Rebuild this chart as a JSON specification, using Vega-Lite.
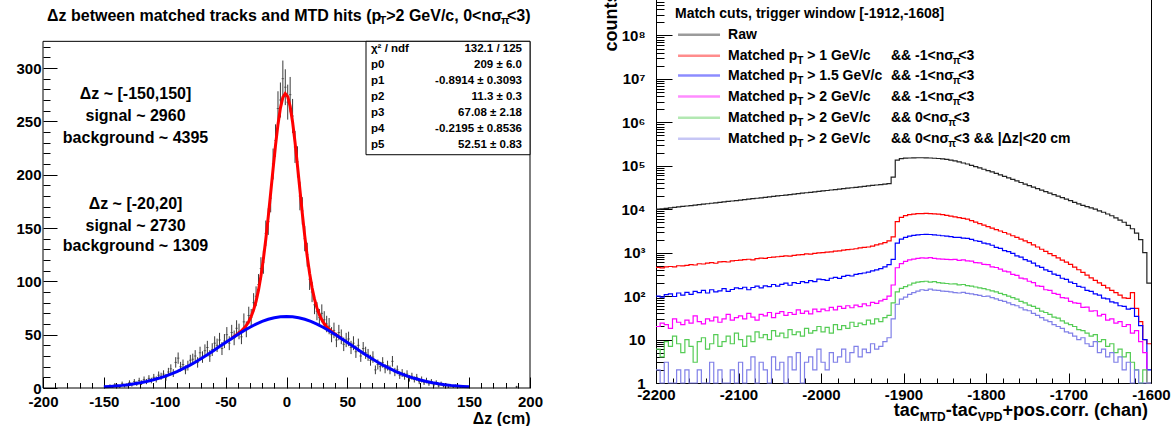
{
"$schema": "https://vega.github.io/schema/vega-lite/v6.json",
"background": "white",
"padding": {"left": 15, "top": -9, "right": 0, "bottom": 0},
"spacing": 59,
"config": {
  "font": "Liberation Sans",
  "view": {"stroke": "#000", "strokeWidth": 1},
  "axis": {"grid": false, "domain": false, "labelFont": "Liberation Sans", "labelFontWeight": "bold", "labelFontSize": 15, "labelColor": "#000", "tickColor": "#000", "tickWidth": 1, "titleFont": "Liberation Sans", "titleFontWeight": "bold", "titleColor": "#000", "labelOverlap": false, "labelFlush": false, "labelBound": false},
  "text": {"font": "Liberation Sans", "fontWeight": "bold", "color": "#000"}
},
"datasets": {
  "hist": [
    {"c":-149,"n":1,"lo":0,"hi":2},{"c":-145,"n":2,"lo":0.6,"hi":3.4},{"c":-143,"n":1,"lo":0,"hi":2},{"c":-141,"n":3,"lo":1.3,"hi":4.7},
    {"c":-139,"n":2,"lo":0.6,"hi":3.4},{"c":-137,"n":1,"lo":0,"hi":2},{"c":-135,"n":4,"lo":2,"hi":6},{"c":-133,"n":2,"lo":0.6,"hi":3.4},
    {"c":-131,"n":3,"lo":1.3,"hi":4.7},{"c":-129,"n":5,"lo":2.8,"hi":7.2},{"c":-127,"n":3,"lo":1.3,"hi":4.7},{"c":-125,"n":6,"lo":3.6,"hi":8.4},
    {"c":-123,"n":4,"lo":2,"hi":6},{"c":-121,"n":7,"lo":4.4,"hi":9.6},{"c":-119,"n":5,"lo":2.8,"hi":7.2},{"c":-117,"n":8,"lo":5.2,"hi":10.8},
    {"c":-115,"n":6,"lo":3.6,"hi":8.4},{"c":-113,"n":9,"lo":6,"hi":12},{"c":-111,"n":7,"lo":4.4,"hi":9.6},{"c":-109,"n":10,"lo":6.8,"hi":13.2},
    {"c":-107,"n":8,"lo":5.2,"hi":10.8},{"c":-105,"n":12,"lo":8.5,"hi":15.5},{"c":-103,"n":11,"lo":7.7,"hi":14.3},{"c":-101,"n":13,"lo":9.4,"hi":16.6},
    {"c":-99,"n":10,"lo":6.8,"hi":13.2},{"c":-97,"n":15,"lo":11.1,"hi":18.9},{"c":-95,"n":18,"lo":13.8,"hi":22.2},{"c":-93,"n":14,"lo":10.3,"hi":17.7},
    {"c":-91,"n":24,"lo":19.1,"hi":28.9},{"c":-89,"n":28,"lo":22.7,"hi":33.3},{"c":-87,"n":20,"lo":15.5,"hi":24.5},{"c":-85,"n":22,"lo":17.3,"hi":26.7},
    {"c":-83,"n":17,"lo":12.9,"hi":21.1},{"c":-81,"n":21,"lo":16.4,"hi":25.6},{"c":-79,"n":26,"lo":20.9,"hi":31.1},{"c":-77,"n":27,"lo":21.8,"hi":32.2},
    {"c":-75,"n":30,"lo":24.5,"hi":35.5},{"c":-73,"n":24,"lo":19.1,"hi":28.9},{"c":-71,"n":33,"lo":27.3,"hi":38.7},{"c":-69,"n":29,"lo":23.6,"hi":34.4},
    {"c":-67,"n":35,"lo":29.1,"hi":40.9},{"c":-65,"n":38,"lo":31.8,"hi":44.2},{"c":-63,"n":30,"lo":24.5,"hi":35.5},{"c":-61,"n":36,"lo":30,"hi":42},
    {"c":-59,"n":42,"lo":35.5,"hi":48.5},{"c":-57,"n":40,"lo":33.7,"hi":46.3},{"c":-55,"n":45,"lo":38.3,"hi":51.7},{"c":-53,"n":37,"lo":30.9,"hi":43.1},
    {"c":-51,"n":44,"lo":37.4,"hi":50.6},{"c":-49,"n":50,"lo":42.9,"hi":57.1},{"c":-47,"n":42,"lo":35.5,"hi":48.5},{"c":-45,"n":52,"lo":44.8,"hi":59.2},
    {"c":-43,"n":47,"lo":40.1,"hi":53.9},{"c":-41,"n":56,"lo":48.5,"hi":63.5},{"c":-39,"n":53,"lo":45.7,"hi":60.3},{"c":-37,"n":48,"lo":41.1,"hi":54.9},
    {"c":-35,"n":62,"lo":54.1,"hi":69.9},{"c":-33,"n":55,"lo":47.6,"hi":62.4},{"c":-31,"n":68,"lo":59.8,"hi":76.2},{"c":-29,"n":66,"lo":57.9,"hi":74.1},
    {"c":-27,"n":80,"lo":71.1,"hi":88.9},{"c":-25,"n":86,"lo":76.7,"hi":95.3},{"c":-23,"n":97,"lo":87.2,"hi":106.8},{"c":-21,"n":112,"lo":101.4,"hi":122.6},
    {"c":-19,"n":118,"lo":107.1,"hi":128.9},{"c":-17,"n":145,"lo":133,"hi":157},{"c":-15,"n":156,"lo":143.5,"hi":168.5},{"c":-13,"n":178,"lo":164.7,"hi":191.3},
    {"c":-11,"n":210,"lo":195.5,"hi":224.5},{"c":-9,"n":232,"lo":216.8,"hi":247.2},{"c":-7,"n":262,"lo":245.8,"hi":278.2},{"c":-5,"n":270,"lo":253.6,"hi":286.4},
    {"c":-3,"n":290,"lo":273,"hi":307},{"c":-1,"n":282,"lo":265.2,"hi":298.8},{"c":1,"n":268,"lo":251.6,"hi":284.4},{"c":3,"n":275,"lo":258.4,"hi":291.6},
    {"c":5,"n":255,"lo":239,"hi":271},{"c":7,"n":226,"lo":211,"hi":241},{"c":9,"n":212,"lo":197.4,"hi":226.6},{"c":11,"n":180,"lo":166.6,"hi":193.4},
    {"c":13,"n":166,"lo":153.1,"hi":178.9},{"c":15,"n":140,"lo":128.2,"hi":151.8},{"c":17,"n":125,"lo":113.8,"hi":136.2},{"c":19,"n":102,"lo":91.9,"hi":112.1},
    {"c":21,"n":90,"lo":80.5,"hi":99.5},{"c":23,"n":78,"lo":69.2,"hi":86.8},{"c":25,"n":72,"lo":63.5,"hi":80.5},{"c":27,"n":66,"lo":57.9,"hi":74.1},
    {"c":29,"n":70,"lo":61.6,"hi":78.4},{"c":31,"n":64,"lo":56,"hi":72},{"c":33,"n":60,"lo":52.3,"hi":67.7},{"c":35,"n":58,"lo":50.4,"hi":65.6},
    {"c":37,"n":50,"lo":42.9,"hi":57.1},{"c":39,"n":54,"lo":46.7,"hi":61.3},{"c":41,"n":45,"lo":38.3,"hi":51.7},{"c":43,"n":52,"lo":44.8,"hi":59.2},
    {"c":45,"n":48,"lo":41.1,"hi":54.9},{"c":47,"n":41,"lo":34.6,"hi":47.4},{"c":49,"n":45,"lo":38.3,"hi":51.7},{"c":51,"n":46,"lo":39.2,"hi":52.8},
    {"c":53,"n":38,"lo":31.8,"hi":44.2},{"c":55,"n":42,"lo":35.5,"hi":48.5},{"c":57,"n":34,"lo":28.2,"hi":39.8},{"c":59,"n":40,"lo":33.7,"hi":46.3},
    {"c":61,"n":30,"lo":24.5,"hi":35.5},{"c":63,"n":37,"lo":30.9,"hi":43.1},{"c":65,"n":33,"lo":27.3,"hi":38.7},{"c":67,"n":31,"lo":25.4,"hi":36.6},
    {"c":69,"n":26,"lo":20.9,"hi":31.1},{"c":71,"n":29,"lo":23.6,"hi":34.4},{"c":73,"n":17,"lo":12.9,"hi":21.1},{"c":75,"n":22,"lo":17.3,"hi":26.7},
    {"c":77,"n":20,"lo":15.5,"hi":24.5},{"c":79,"n":24,"lo":19.1,"hi":28.9},{"c":81,"n":18,"lo":13.8,"hi":22.2},{"c":83,"n":21,"lo":16.4,"hi":25.6},
    {"c":85,"n":17,"lo":12.9,"hi":21.1},{"c":87,"n":25,"lo":20,"hi":30},{"c":89,"n":15,"lo":11.1,"hi":18.9},{"c":91,"n":17,"lo":12.9,"hi":21.1},
    {"c":93,"n":12,"lo":8.5,"hi":15.5},{"c":95,"n":14,"lo":10.3,"hi":17.7},{"c":97,"n":11,"lo":7.7,"hi":14.3},{"c":99,"n":13,"lo":9.4,"hi":16.6},
    {"c":101,"n":9,"lo":6,"hi":12},{"c":103,"n":11,"lo":7.7,"hi":14.3},{"c":105,"n":8,"lo":5.2,"hi":10.8},{"c":107,"n":10,"lo":6.8,"hi":13.2},
    {"c":109,"n":6,"lo":3.6,"hi":8.4},{"c":111,"n":8,"lo":5.2,"hi":10.8},{"c":113,"n":5,"lo":2.8,"hi":7.2},{"c":115,"n":7,"lo":4.4,"hi":9.6},
    {"c":117,"n":4,"lo":2,"hi":6},{"c":119,"n":6,"lo":3.6,"hi":8.4},{"c":121,"n":3,"lo":1.3,"hi":4.7},{"c":123,"n":5,"lo":2.8,"hi":7.2},
    {"c":125,"n":2,"lo":0.6,"hi":3.4},{"c":127,"n":4,"lo":2,"hi":6},{"c":129,"n":2,"lo":0.6,"hi":3.4},{"c":131,"n":3,"lo":1.3,"hi":4.7},
    {"c":133,"n":1,"lo":0,"hi":2},{"c":135,"n":2,"lo":0.6,"hi":3.4},{"c":137,"n":1,"lo":0,"hi":2},{"c":139,"n":2,"lo":0.6,"hi":3.4},
    {"c":143,"n":1,"lo":0,"hi":2},{"c":145,"n":1,"lo":0,"hi":2},{"c":149,"n":1,"lo":0,"hi":2},{"c":189,"n":1,"lo":0,"hi":2}
  ],
  "red": [
    {"x":-45,"y":46.6},{"x":-43,"y":48.2},{"x":-41,"y":49.9},{"x":-39,"y":51.6},{"x":-37,"y":53.6},{"x":-35,"y":55.9},{"x":-33,"y":58.7},{"x":-31,"y":62.4},
    {"x":-29,"y":67.1},{"x":-27,"y":73.3},{"x":-25,"y":81.3},{"x":-23,"y":91.7},{"x":-21,"y":104.9},{"x":-19,"y":120.8},{"x":-17,"y":139.5},{"x":-15,"y":160.5},
    {"x":-13,"y":182.8},{"x":-11,"y":205.7},{"x":-9,"y":227.8},{"x":-7,"y":247.1},{"x":-5,"y":262.4},{"x":-3,"y":272.4},{"x":-1,"y":276.1},{"x":1,"y":273.2},
    {"x":3,"y":264.0},{"x":5,"y":249.3},{"x":7,"y":230.5},{"x":9,"y":208.6},{"x":11,"y":186.1},{"x":13,"y":163.5},{"x":15,"y":142.3},{"x":17,"y":123.5},
    {"x":19,"y":107.3},{"x":21,"y":94.0},{"x":23,"y":83.3},{"x":25,"y":75.1},{"x":27,"y":68.7},{"x":29,"y":63.9},{"x":31,"y":60.2},{"x":33,"y":57.4},
    {"x":35,"y":55.1},{"x":37,"y":53.1},{"x":39,"y":51.3},{"x":41,"y":49.7},{"x":43,"y":48.1},{"x":45,"y":46.6}
  ],
  "blue": [
    {"x":-150,"y":1.14},{"x":-145,"y":1.48},{"x":-140,"y":1.92},{"x":-135,"y":2.46},{"x":-130,"y":3.13},{"x":-125,"y":3.95},{"x":-120,"y":4.94},
    {"x":-115,"y":6.10},{"x":-110,"y":7.47},{"x":-105,"y":9.08},{"x":-100,"y":10.92},{"x":-95,"y":13.05},{"x":-90,"y":15.44},{"x":-85,"y":18.10},
    {"x":-80,"y":21.02},{"x":-75,"y":24.20},{"x":-70,"y":27.61},{"x":-65,"y":31.21},{"x":-60,"y":34.93},{"x":-55,"y":38.81},{"x":-50,"y":42.64},
    {"x":-45,"y":46.51},{"x":-40,"y":50.19},{"x":-35,"y":53.71},{"x":-30,"y":56.98},{"x":-25,"y":59.89},{"x":-20,"y":62.39},{"x":-15,"y":64.40},
    {"x":-10,"y":65.87},{"x":-5,"y":66.78},{"x":0,"y":67.08},{"x":5,"y":66.78},{"x":10,"y":65.87},{"x":15,"y":64.40},{"x":20,"y":62.39},
    {"x":25,"y":59.89},{"x":30,"y":56.98},{"x":35,"y":53.71},{"x":40,"y":50.19},{"x":45,"y":46.51},{"x":50,"y":42.64},{"x":55,"y":38.81},
    {"x":60,"y":34.93},{"x":65,"y":31.21},{"x":70,"y":27.61},{"x":75,"y":24.20},{"x":80,"y":21.02},{"x":85,"y":18.10},{"x":90,"y":15.44},
    {"x":95,"y":13.05},{"x":100,"y":10.92},{"x":105,"y":9.08},{"x":110,"y":7.47},{"x":115,"y":6.10},{"x":120,"y":4.94},{"x":125,"y":3.95},
    {"x":130,"y":3.13},{"x":135,"y":2.46},{"x":140,"y":1.92},{"x":145,"y":1.48},{"x":150,"y":1.14}
  ],
  "ann": [
    {"x":-124,"y":276,"t":"Δz ~ [-150,150]"},{"x":-124,"y":255,"t":"signal ~ 2960"},{"x":-124,"y":234.6,"t":"background ~ 4395"},
    {"x":-124,"y":172.8,"t":"Δz ~ [-20,20]"},{"x":-124,"y":152,"t":"signal ~ 2730"},{"x":-124,"y":133,"t":"background ~ 1309"}
  ],
  "ttl": [
    {"x":-196.7,"y":349,"t":"Δz between matched tracks and MTD hits (p"},
    {"x":81.9,"y":349,"t":">2 GeV/c, 0<nσ"},
    {"x":181.1,"y":349,"t":"<3)"}
  ],
  "tsub": [
    {"x":76.4,"y":349,"t":"T"},{"x":176.1,"y":349,"t":"π"}
  ],
  "sbox": [{"x1":65.3,"x2":200,"y1":218.7,"y2":325}],
  "slab": [
    {"x":69.4,"y":318.1,"t":"χ² / ndf"},{"x":69.4,"y":303.1,"t":"p0"},{"x":69.4,"y":288.1,"t":"p1"},{"x":69.4,"y":273.1,"t":"p2"},
    {"x":69.4,"y":258.1,"t":"p3"},{"x":69.4,"y":243.1,"t":"p4"},{"x":69.4,"y":228.1,"t":"p5"}
  ],
  "sval": [
    {"x":193.4,"y":318.1,"t":"132.1 / 125"},{"x":193.4,"y":303.1,"t":"209 ± 6.0"},{"x":193.4,"y":288.1,"t":"-0.8914 ± 0.3093"},
    {"x":193.4,"y":273.1,"t":"11.3 ± 0.3"},{"x":193.4,"y":258.1,"t":"67.08 ± 2.18"},{"x":193.4,"y":243.1,"t":"-0.2195 ± 0.8536"},
    {"x":193.4,"y":228.1,"t":"52.51 ± 0.83"}
  ],
  "spec": [
    {"x":-2200,"a":10000,"b":460,"c":100,"d":20,"e":6,"f":2},
    {"x":-2195,"a":10250,"b":445,"c":95,"d":24,"e":4,"f":1},
    {"x":-2190,"a":10500,"b":470,"c":108,"d":22,"e":9,"f":3},
    {"x":-2185,"a":10750,"b":480,"c":112,"d":18,"e":7,"f":1},
    {"x":-2180,"a":11020,"b":472,"c":98,"d":30,"e":12,"f":1},
    {"x":-2175,"a":11290,"b":500,"c":118,"d":25,"e":8,"f":2},
    {"x":-2170,"a":11570,"b":495,"c":105,"d":22,"e":5,"f":1},
    {"x":-2165,"a":11850,"b":512,"c":122,"d":28,"e":10,"f":2},
    {"x":-2160,"a":12140,"b":530,"c":110,"d":24,"e":7,"f":1},
    {"x":-2155,"a":12440,"b":520,"c":128,"d":35,"e":3,"f":1},
    {"x":-2150,"a":12740,"b":556,"c":120,"d":26,"e":9,"f":2},
    {"x":-2145,"a":13060,"b":548,"c":135,"d":23,"e":11,"f":1},
    {"x":-2140,"a":13380,"b":575,"c":118,"d":30,"e":6,"f":1},
    {"x":-2135,"a":13710,"b":590,"c":140,"d":27,"e":8,"f":3},
    {"x":-2130,"a":14040,"b":570,"c":125,"d":33,"e":13,"f":1},
    {"x":-2125,"a":14390,"b":612,"c":132,"d":25,"e":7,"f":2},
    {"x":-2120,"a":14740,"b":625,"c":148,"d":30,"e":9,"f":1},
    {"x":-2115,"a":15100,"b":610,"c":128,"d":38,"e":12,"f":1},
    {"x":-2110,"a":15470,"b":648,"c":142,"d":28,"e":8,"f":2},
    {"x":-2105,"a":15850,"b":660,"c":155,"d":32,"e":14,"f":1},
    {"x":-2100,"a":16230,"b":676,"c":148,"d":35,"e":10,"f":3},
    {"x":-2095,"a":16630,"b":690,"c":160,"d":30,"e":7,"f":1},
    {"x":-2090,"a":17040,"b":705,"c":140,"d":40,"e":12,"f":2},
    {"x":-2085,"a":17460,"b":685,"c":158,"d":33,"e":9,"f":4},
    {"x":-2080,"a":17890,"b":730,"c":170,"d":28,"e":15,"f":1},
    {"x":-2075,"a":18330,"b":745,"c":155,"d":38,"e":11,"f":3},
    {"x":-2070,"a":18780,"b":740,"c":172,"d":35,"e":13,"f":2},
    {"x":-2065,"a":19240,"b":775,"c":165,"d":42,"e":10,"f":1},
    {"x":-2060,"a":19710,"b":790,"c":185,"d":32,"e":16,"f":4},
    {"x":-2055,"a":20190,"b":805,"c":170,"d":40,"e":12,"f":2},
    {"x":-2050,"a":20690,"b":822,"c":186,"d":44,"e":14,"f":3},
    {"x":-2045,"a":21200,"b":840,"c":200,"d":36,"e":11,"f":1},
    {"x":-2040,"a":21720,"b":830,"c":178,"d":42,"e":17,"f":4},
    {"x":-2035,"a":22250,"b":870,"c":205,"d":38,"e":13,"f":2},
    {"x":-2030,"a":22790,"b":890,"c":195,"d":48,"e":15,"f":5},
    {"x":-2025,"a":23350,"b":905,"c":215,"d":40,"e":12,"f":1},
    {"x":-2020,"a":23930,"b":935,"c":205,"d":45,"e":18,"f":3},
    {"x":-2015,"a":24510,"b":925,"c":228,"d":39,"e":14,"f":4},
    {"x":-2010,"a":25110,"b":960,"c":215,"d":50,"e":16,"f":2},
    {"x":-2005,"a":25730,"b":985,"c":245,"d":44,"e":20,"f":6},
    {"x":-2000,"a":26360,"b":1000,"c":240,"d":50,"e":15,"f":3},
    {"x":-1995,"a":27010,"b":1030,"c":230,"d":46,"e":19,"f":2},
    {"x":-1990,"a":27670,"b":1040,"c":258,"d":55,"e":14,"f":5},
    {"x":-1985,"a":28350,"b":1080,"c":270,"d":48,"e":22,"f":3},
    {"x":-1980,"a":29040,"b":1100,"c":255,"d":58,"e":17,"f":4},
    {"x":-1975,"a":29760,"b":1150,"c":285,"d":52,"e":21,"f":6},
    {"x":-1970,"a":30490,"b":1170,"c":300,"d":60,"e":18,"f":3},
    {"x":-1965,"a":31230,"b":1200,"c":290,"d":54,"e":25,"f":5},
    {"x":-1960,"a":32000,"b":1230,"c":315,"d":62,"e":20,"f":7},
    {"x":-1955,"a":32780,"b":1290,"c":330,"d":57,"e":24,"f":4},
    {"x":-1950,"a":33590,"b":1320,"c":340,"d":66,"e":22,"f":6},
    {"x":-1945,"a":34410,"b":1350,"c":355,"d":60,"e":28,"f":5},
    {"x":-1940,"a":35260,"b":1420,"c":380,"d":72,"e":23,"f":8},
    {"x":-1935,"a":36120,"b":1510,"c":400,"d":68,"e":30,"f":6},
    {"x":-1930,"a":37010,"b":1590,"c":430,"d":78,"e":26,"f":7},
    {"x":-1925,"a":37920,"b":1700,"c":470,"d":84,"e":32,"f":9},
    {"x":-1920,"a":38850,"b":1860,"c":530,"d":100,"e":36,"f":11},
    {"x":-1915,"a":55000,"b":2300,"c":700,"d":180,"e":70,"f":30},
    {"x":-1910,"a":135000,"b":5200,"c":1650,"d":450,"e":125,"f":65},
    {"x":-1905,"a":146000,"b":6500,"c":2050,"d":560,"e":150,"f":85},
    {"x":-1900,"a":150000,"b":7100,"c":2250,"d":630,"e":165,"f":95},
    {"x":-1895,"a":151000,"b":7500,"c":2400,"d":680,"e":180,"f":110},
    {"x":-1890,"a":152000,"b":7750,"c":2500,"d":710,"e":200,"f":120},
    {"x":-1885,"a":153000,"b":7900,"c":2580,"d":740,"e":210,"f":130},
    {"x":-1880,"a":153000,"b":7950,"c":2620,"d":760,"e":215,"f":140},
    {"x":-1875,"a":152000,"b":8000,"c":2640,"d":750,"e":220,"f":135},
    {"x":-1870,"a":151000,"b":7950,"c":2620,"d":770,"e":210,"f":145},
    {"x":-1865,"a":149000,"b":7850,"c":2580,"d":740,"e":215,"f":138},
    {"x":-1860,"a":147000,"b":7700,"c":2520,"d":720,"e":205,"f":135},
    {"x":-1855,"a":144000,"b":7500,"c":2450,"d":710,"e":200,"f":130},
    {"x":-1850,"a":141000,"b":7250,"c":2400,"d":700,"e":195,"f":128},
    {"x":-1845,"a":135000,"b":6950,"c":2340,"d":690,"e":190,"f":125},
    {"x":-1840,"a":129000,"b":6670,"c":2260,"d":700,"e":192,"f":120},
    {"x":-1835,"a":123000,"b":6400,"c":2250,"d":665,"e":182,"f":118},
    {"x":-1830,"a":116000,"b":6140,"c":2170,"d":680,"e":185,"f":122},
    {"x":-1825,"a":110000,"b":5890,"c":2140,"d":650,"e":175,"f":115},
    {"x":-1820,"a":102000,"b":5450,"c":2030,"d":640,"e":170,"f":112},
    {"x":-1815,"a":95500,"b":5040,"c":1880,"d":590,"e":162,"f":108},
    {"x":-1810,"a":89100,"b":4660,"c":1810,"d":585,"e":155,"f":104},
    {"x":-1805,"a":83200,"b":4310,"c":1660,"d":540,"e":148,"f":98},
    {"x":-1800,"a":77600,"b":3980,"c":1600,"d":530,"e":140,"f":100},
    {"x":-1795,"a":72400,"b":3680,"c":1480,"d":470,"e":132,"f":92},
    {"x":-1790,"a":66800,"b":3400,"c":1320,"d":455,"e":125,"f":86},
    {"x":-1785,"a":61700,"b":3150,"c":1260,"d":420,"e":115,"f":80},
    {"x":-1780,"a":56900,"b":2910,"c":1120,"d":375,"e":108,"f":76},
    {"x":-1775,"a":52500,"b":2690,"c":1060,"d":360,"e":100,"f":70},
    {"x":-1770,"a":48400,"b":2450,"c":960,"d":315,"e":92,"f":64},
    {"x":-1765,"a":44700,"b":2240,"c":840,"d":300,"e":85,"f":60},
    {"x":-1760,"a":41200,"b":2040,"c":790,"d":260,"e":76,"f":54},
    {"x":-1755,"a":38000,"b":1860,"c":690,"d":250,"e":70,"f":48},
    {"x":-1750,"a":35100,"b":1700,"c":640,"d":220,"e":62,"f":46},
    {"x":-1745,"a":32400,"b":1510,"c":575,"d":205,"e":58,"f":40},
    {"x":-1740,"a":29900,"b":1350,"c":495,"d":172,"e":52,"f":36},
    {"x":-1735,"a":27500,"b":1200,"c":460,"d":168,"e":45,"f":32},
    {"x":-1730,"a":25400,"b":1070,"c":400,"d":140,"e":42,"f":28},
    {"x":-1725,"a":23400,"b":955,"c":370,"d":135,"e":38,"f":26},
    {"x":-1720,"a":21600,"b":851,"c":320,"d":115,"e":33,"f":22},
    {"x":-1715,"a":19950,"b":759,"c":300,"d":110,"e":31,"f":20},
    {"x":-1710,"a":18400,"b":676,"c":258,"d":92,"e":27,"f":18},
    {"x":-1705,"a":17000,"b":603,"c":242,"d":90,"e":24,"f":15},
    {"x":-1700,"a":15700,"b":537,"c":210,"d":76,"e":22,"f":14},
    {"x":-1695,"a":14450,"b":466,"c":195,"d":70,"e":20,"f":12},
    {"x":-1690,"a":13300,"b":404,"c":168,"d":68,"e":17,"f":10},
    {"x":-1685,"a":12300,"b":350,"c":160,"d":55,"e":16,"f":11},
    {"x":-1680,"a":11500,"b":303,"c":136,"d":56,"e":14,"f":8},
    {"x":-1675,"a":10700,"b":263,"c":128,"d":45,"e":12,"f":7},
    {"x":-1670,"a":10000,"b":230,"c":112,"d":46,"e":13,"f":9},
    {"x":-1665,"a":9120,"b":201,"c":105,"d":35,"e":9,"f":5},
    {"x":-1660,"a":8510,"b":176,"c":90,"d":38,"e":10,"f":6},
    {"x":-1655,"a":7760,"b":154,"c":86,"d":28,"e":7,"f":4},
    {"x":-1650,"a":7080,"b":135,"c":74,"d":30,"e":8,"f":5},
    {"x":-1645,"a":6310,"b":120,"c":70,"d":24,"e":5,"f":3},
    {"x":-1640,"a":5620,"b":105,"c":60,"d":26,"e":6,"f":4},
    {"x":-1635,"a":5010,"b":91,"c":58,"d":20,"e":4,"f":2},
    {"x":-1630,"a":4270,"b":89,"c":50,"d":22,"e":5,"f":3},
    {"x":-1625,"a":3550,"b":120,"c":52,"d":14,"e":3,"f":1},
    {"x":-1620,"a":2820,"b":52,"c":34,"d":16,"e":2,"f":2},
    {"x":-1615,"a":2000,"b":26,"c":21,"d":9,"e":1,"f":1},
    {"x":-1610,"a":1000,"b":10,"c":10,"d":5,"e":2,"f":1},
    {"x":-1605,"a":200,"b":8,"c":2,"d":1,"e":1,"f":1},
    {"x":-1600,"a":200,"b":8,"c":2,"d":1,"e":1,"f":1}
  ],
  "leg": [
    {"s":"a","y":1.04e8},{"s":"b","y":3.41e7},{"s":"c","y":1.19e7},{"s":"d","y":3.91e6},{"s":"e","y":1.27e6},{"s":"f","y":4.18e5}
  ],
  "legtxt": [
    {"x":-2177,"y":3.16e8,"t":"Match cuts, trigger window [-1912,-1608]"},
    {"x":-2112.7,"y":1.04e8,"t":"Raw"},
    {"x":-2112.7,"y":3.41e7,"t":"Matched p"},{"x":-2016.8,"y":3.41e7,"t":"> 1 GeV/c"},{"x":-1915.2,"y":3.41e7,"t":"&& -1<nσ"},{"x":-1833.5,"y":3.41e7,"t":"<3"},
    {"x":-2112.7,"y":1.19e7,"t":"Matched p"},{"x":-2016.8,"y":1.19e7,"t":"> 1.5 GeV/c"},{"x":-1915.2,"y":1.19e7,"t":"&& -1<nσ"},{"x":-1833.5,"y":1.19e7,"t":"<3"},
    {"x":-2112.7,"y":3.91e6,"t":"Matched p"},{"x":-2016.8,"y":3.91e6,"t":"> 2 GeV/c"},{"x":-1915.2,"y":3.91e6,"t":"&& -1<nσ"},{"x":-1833.5,"y":3.91e6,"t":"<3"},
    {"x":-2112.7,"y":1.27e6,"t":"Matched p"},{"x":-2016.8,"y":1.27e6,"t":"> 2 GeV/c"},{"x":-1915.2,"y":1.27e6,"t":"&& 0<nσ"},{"x":-1839.0,"y":1.27e6,"t":"<3"},
    {"x":-2112.7,"y":4.18e5,"t":"Matched p"},{"x":-2016.8,"y":4.18e5,"t":"> 2 GeV/c"},{"x":-1915.2,"y":4.18e5,"t":"&& 0<nσ"},{"x":-1839.0,"y":4.18e5,"t":"<3 && |Δz|<20 cm"}
  ],
  "legsub": [
    {"x":-2028.9,"y":3.41e7,"t":"T"},{"x":-1840.2,"y":3.41e7,"t":"π"},
    {"x":-2028.9,"y":1.19e7,"t":"T"},{"x":-1840.2,"y":1.19e7,"t":"π"},
    {"x":-2028.9,"y":3.91e6,"t":"T"},{"x":-1840.2,"y":3.91e6,"t":"π"},
    {"x":-2028.9,"y":1.27e6,"t":"T"},{"x":-1845.8,"y":1.27e6,"t":"π"},
    {"x":-2028.9,"y":4.18e5,"t":"T"},{"x":-1845.8,"y":4.18e5,"t":"π"}
  ],
  "xt": [
    {"x":-1911.8,"y":0.2265,"t":"tac"},{"x":-1848.7,"y":0.2265,"t":"-tac"},{"x":-1780.0,"y":0.2265,"t":"+pos.corr. (chan)"}
  ],
  "xtsub": [
    {"x":-1880.3,"y":0.2265,"t":"MTD"},{"x":-1809.9,"y":0.2265,"t":"VPD"}
  ]
},
"hconcat": [
  {
    "width": 487, "height": 396,
    "view": {"stroke": null},
    "resolve": {"axis": {"x": "independent", "y": "independent"}},
    "layer": [
      {"data": {"name": "hist"}, "mark": {"type": "rule", "color": "#3a3a3a", "strokeWidth": 1},
       "encoding": {
         "x": {"field": "c", "type": "quantitative", "scale": {"domain": [-200, 200], "nice": false, "zero": false},
               "axis": {"orient": "bottom", "values": [-200,-150,-100,-50,0,50,100,150,200], "tickSize": -11, "labelPadding": 17, "labelExpr": "'' + datum.value", "title": "Δz (cm)", "titleAnchor": "end", "titleFontSize": 16, "titlePadding": 1}},
         "y": {"field": "lo", "type": "quantitative", "scale": {"domain": [0, 371.25], "nice": false, "zero": false},
               "axis": {"orient": "left", "values": [0,50,100,150,200,250,300], "tickSize": -14, "labelPadding": 16, "labelExpr": "'' + datum.value", "title": null}},
         "y2": {"field": "hi"}
       }},
      {"data": {"name": "hist"}, "mark": {"type": "tick", "orient": "horizontal", "color": "#3a3a3a", "size": 2.5, "thickness": 1},
       "encoding": {
         "x": {"field": "c", "type": "quantitative", "scale": {"domain": [-200, 200], "nice": false, "zero": false},
               "axis": {"orient": "bottom", "values": [-190,-180,-170,-160,-140,-130,-120,-110,-90,-80,-70,-60,-40,-30,-20,-10,10,20,30,40,60,70,80,90,110,120,130,140,160,170,180,190], "tickSize": -5.5, "labels": false, "title": null}},
         "y": {"field": "n", "type": "quantitative", "scale": {"domain": [0, 371.25], "nice": false, "zero": false},
               "axis": {"orient": "left", "values": [10,20,30,40,60,70,80,90,110,120,130,140,160,170,180,190,210,220,230,240,260,270,280,290,310,320], "tickSize": -7, "labels": false, "title": null}}
       }},
      {"data": {"name": "red"}, "mark": {"type": "line", "color": "#ff0000", "strokeWidth": 3},
       "encoding": {
         "x": {"field": "x", "type": "quantitative", "scale": {"domain": [-200, 200], "nice": false, "zero": false}, "axis": null},
         "y": {"field": "y", "type": "quantitative", "scale": {"domain": [0, 371.25], "nice": false, "zero": false}, "axis": null}
       }},
      {"data": {"name": "blue"}, "mark": {"type": "line", "color": "#0000ff", "strokeWidth": 3},
       "encoding": {
         "x": {"field": "x", "type": "quantitative", "scale": {"domain": [-200, 200], "nice": false, "zero": false}, "axis": null},
         "y": {"field": "y", "type": "quantitative", "scale": {"domain": [0, 371.25], "nice": false, "zero": false}, "axis": null}
       }},
      {"data": {"values": [{}]}, "mark": {"type": "rect", "filled": false, "color": "#000000", "strokeWidth": 1},
       "encoding": {
         "x": {"datum": -200, "type": "quantitative", "scale": {"domain": [-200, 200], "nice": false, "zero": false}, "axis": null},
         "x2": {"datum": 200},
         "y": {"datum": 0, "type": "quantitative", "scale": {"domain": [0, 371.25], "nice": false, "zero": false}, "axis": null},
         "y2": {"datum": 325}
       }},
      {"data": {"name": "ann"}, "mark": {"type": "text", "fontSize": 16, "align": "center", "baseline": "middle"},
       "encoding": {
         "x": {"field": "x", "type": "quantitative", "scale": {"domain": [-200, 200], "nice": false, "zero": false}, "axis": null},
         "y": {"field": "y", "type": "quantitative", "scale": {"domain": [0, 371.25], "nice": false, "zero": false}, "axis": null},
         "text": {"field": "t"}
       }},
      {"data": {"name": "ttl"}, "mark": {"type": "text", "fontSize": 16, "align": "left", "baseline": "middle"},
       "encoding": {
         "x": {"field": "x", "type": "quantitative", "scale": {"domain": [-200, 200], "nice": false, "zero": false}, "axis": null},
         "y": {"field": "y", "type": "quantitative", "scale": {"domain": [0, 371.25], "nice": false, "zero": false}, "axis": null},
         "text": {"field": "t"}
       }},
      {"data": {"name": "tsub"}, "mark": {"type": "text", "fontSize": 11, "align": "left", "baseline": "middle", "dy": 5},
       "encoding": {
         "x": {"field": "x", "type": "quantitative", "scale": {"domain": [-200, 200], "nice": false, "zero": false}, "axis": null},
         "y": {"field": "y", "type": "quantitative", "scale": {"domain": [0, 371.25], "nice": false, "zero": false}, "axis": null},
         "text": {"field": "t"}
       }},
      {"data": {"name": "sbox"}, "mark": {"type": "rect", "fill": "#ffffff", "stroke": "#000000", "strokeWidth": 1},
       "encoding": {
         "x": {"field": "x1", "type": "quantitative", "scale": {"domain": [-200, 200], "nice": false, "zero": false}, "axis": null},
         "x2": {"field": "x2"},
         "y": {"field": "y1", "type": "quantitative", "scale": {"domain": [0, 371.25], "nice": false, "zero": false}, "axis": null},
         "y2": {"field": "y2"}
       }},
      {"data": {"name": "slab"}, "mark": {"type": "text", "fontSize": 11.5, "align": "left", "baseline": "middle"},
       "encoding": {
         "x": {"field": "x", "type": "quantitative", "scale": {"domain": [-200, 200], "nice": false, "zero": false}, "axis": null},
         "y": {"field": "y", "type": "quantitative", "scale": {"domain": [0, 371.25], "nice": false, "zero": false}, "axis": null},
         "text": {"field": "t"}
       }},
      {"data": {"name": "sval"}, "mark": {"type": "text", "fontSize": 11.5, "align": "right", "baseline": "middle"},
       "encoding": {
         "x": {"field": "x", "type": "quantitative", "scale": {"domain": [-200, 200], "nice": false, "zero": false}, "axis": null},
         "y": {"field": "y", "type": "quantitative", "scale": {"domain": [0, 371.25], "nice": false, "zero": false}, "axis": null},
         "text": {"field": "t"}
       }}
    ]
  },
  {
    "width": 495, "height": 391,
    "resolve": {"axis": {"x": "independent", "y": "independent"}},
    "layer": [
      {"data": {"name": "spec"}, "transform": [{"fold": ["a","b","c","d","e","f"], "as": ["s","v"]}],
       "mark": {"type": "line", "interpolate": "step-after", "strokeWidth": 1.2},
       "encoding": {
         "x": {"field": "x", "type": "quantitative", "scale": {"domain": [-2200, -1600], "nice": false, "zero": false},
               "axis": {"orient": "bottom", "values": [-2200,-2100,-2000,-1900,-1800,-1700,-1600], "tickSize": -10, "labelPadding": 14, "labelExpr": "'' + datum.value", "title": null}},
         "y": {"field": "v", "type": "quantitative", "scale": {"type": "log", "domain": [1, 1000000000], "nice": false},
               "axis": {"orient": "left", "values": [1,10,100,1000,10000,100000,1000000,10000000,100000000], "tickSize": -16, "labelPadding": 27,
                        "labelExpr": "datum.value < 5 ? '1' : datum.value < 50 ? '10' : '10' + ['','','²','³','⁴','⁵','⁶','⁷','⁸','⁹'][round(log(datum.value)/LN10)]",
                        "title": "counts", "titleAnchor": "end", "titleFontSize": 18, "titlePadding": 0}},
         "color": {"field": "s", "type": "nominal", "scale": {"domain": ["a","b","c","d","e","f"], "range": ["#222222","#ff0000","#0000ff","#ff00ff","#55cc55","#8080e8"]}, "legend": null}
       }},
      {"data": {"name": "leg"}, "mark": {"type": "rule", "strokeWidth": 2.5, "opacity": 0.45},
       "encoding": {
         "x": {"datum": -2173.3, "type": "quantitative", "scale": {"domain": [-2200, -1600], "nice": false, "zero": false}, "axis": null},
         "x2": {"datum": -2122.4},
         "y": {"field": "y", "type": "quantitative", "scale": {"type": "log", "domain": [1, 1000000000], "nice": false}, "axis": null},
         "color": {"field": "s", "type": "nominal", "scale": {"domain": ["a","b","c","d","e","f"], "range": ["#222222","#ff0000","#0000ff","#ff00ff","#55cc55","#8080e8"]}, "legend": null}
       }},
      {"data": {"name": "legtxt"}, "mark": {"type": "text", "fontSize": 14, "align": "left", "baseline": "middle"},
       "encoding": {
         "x": {"field": "x", "type": "quantitative", "scale": {"domain": [-2200, -1600], "nice": false, "zero": false},
               "axis": {"orient": "bottom", "values": [-2180,-2160,-2140,-2120,-2080,-2060,-2040,-2020,-1980,-1960,-1940,-1920,-1880,-1860,-1840,-1820,-1780,-1760,-1740,-1720,-1680,-1660,-1640,-1620], "tickSize": -5, "labels": false, "title": null}},
         "y": {"field": "y", "type": "quantitative", "scale": {"type": "log", "domain": [1, 1000000000], "nice": false},
               "axis": {"orient": "left", "values": [2,3,4,5,6,7,8,9,20,30,40,50,60,70,80,90,200,300,400,500,600,700,800,900,2000,3000,4000,5000,6000,7000,8000,9000,20000,30000,40000,50000,60000,70000,80000,90000,200000,300000,400000,500000,600000,700000,800000,900000,2000000,3000000,4000000,5000000,6000000,7000000,8000000,9000000,20000000,30000000,40000000,50000000,60000000,70000000,80000000,90000000,200000000,300000000,400000000,500000000,600000000,700000000,800000000,900000000], "tickSize": -8, "labels": false, "title": null}},
         "text": {"field": "t"}
       }},
      {"data": {"name": "legsub"}, "mark": {"type": "text", "fontSize": 10, "align": "left", "baseline": "middle", "dy": 5},
       "encoding": {
         "x": {"field": "x", "type": "quantitative", "scale": {"domain": [-2200, -1600], "nice": false, "zero": false}, "axis": null},
         "y": {"field": "y", "type": "quantitative", "scale": {"type": "log", "domain": [1, 1000000000], "nice": false}, "axis": null},
         "text": {"field": "t"}
       }},
      {"data": {"name": "xt"}, "mark": {"type": "text", "fontSize": 18, "align": "left", "baseline": "middle"},
       "encoding": {
         "x": {"field": "x", "type": "quantitative", "scale": {"domain": [-2200, -1600], "nice": false, "zero": false}, "axis": null},
         "y": {"field": "y", "type": "quantitative", "scale": {"type": "log", "domain": [1, 1000000000], "nice": false}, "axis": null},
         "text": {"field": "t"}
       }},
      {"data": {"name": "xtsub"}, "mark": {"type": "text", "fontSize": 12, "align": "left", "baseline": "middle", "dy": 6},
       "encoding": {
         "x": {"field": "x", "type": "quantitative", "scale": {"domain": [-2200, -1600], "nice": false, "zero": false}, "axis": null},
         "y": {"field": "y", "type": "quantitative", "scale": {"type": "log", "domain": [1, 1000000000], "nice": false}, "axis": null},
         "text": {"field": "t"}
       }}
    ]
  }
]
}
